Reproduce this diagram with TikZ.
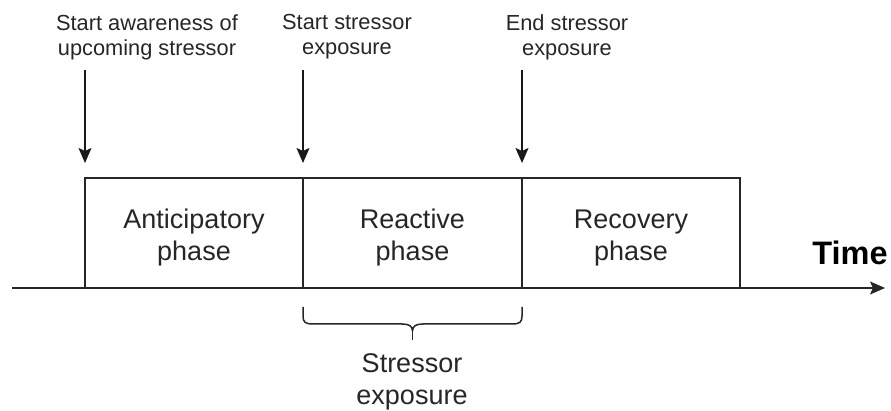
\documentclass[tikz,border=0pt]{standalone}
\usepackage{fontspec}
\setmainfont{Liberation Sans}
\usetikzlibrary{arrows.meta}
\begin{document}
\begin{tikzpicture}[x=1pt,y=-1pt,
  phasebox/.style={draw=black!85, line width=1.6pt, minimum width=218pt, minimum height=110pt, inner sep=0pt, outer sep=0pt},
  phasetext/.style={align=center, font=\fontsize{27}{32}\selectfont, text=black!85},
  toplabel/.style={align=center, font=\fontsize{21.8}{25}\selectfont, text=black!85},
  evarrow/.style={line width=1.6pt, black!90, -{Stealth[length=15pt,width=13pt,inset=3pt]}},
  axisline/.style={line width=1.6pt, black!85, -{Stealth[length=15pt,width=13pt,inset=3pt]}}
]
\useasboundingbox (0,0) rectangle (891,411);

% axis
\coordinate (ax0) at (12,288);
\coordinate (ax1) at (885,288);
\draw[axisline] (ax0) -- (ax1);

% phase boxes
\node[phasebox] (b1) at (194,233) {};
\node[phasebox, minimum width=219pt] (b2) at (412.5,233) {};
\node[phasebox] (b3) at (631,233) {};
\node[phasetext] (t1) at (194,238) {Anticipatory\\phase};
\node[phasetext] (t2) at (412.5,238) {Reactive\\phase};
\node[phasetext] (t3) at (631,238) {Recovery\\phase};

% time label
\node[anchor=base, font=\fontsize{32.5}{36}\selectfont\bfseries, inner sep=0pt] (time) at (850,265) {Time};

% event labels
\node[toplabel] (l1) at (147,37) {Start awareness of\\upcoming stressor};
\node[toplabel] (l2) at (347,37) {Start stressor\\exposure};
\node[toplabel] (l3) at (567,37) {End stressor\\exposure};

% event arrows
\coordinate (s1) at (85,70);
\coordinate (s2) at (303,70);
\coordinate (s3) at (522,70);
\draw[evarrow] (s1) -- ([yshift=15pt]b1.north west);
\draw[evarrow] (s2) -- ([yshift=15pt]b2.north west);
\draw[evarrow] (s3) -- ([yshift=15pt]b3.north west);

% brace
\coordinate (br0) at (303,307);
\coordinate (br1) at (522,307);
\coordinate (brtip) at (412.5,340);
\draw[line width=1.5pt, black!85, line join=round]
  (br0) -- (303,316) .. controls (303,322) and (305,324) .. (313,324)
  -- (402,324) .. controls (409,324) and (412.5,326) .. (412.5,331)
  .. controls (412.5,326) and (416,324) .. (423,324)
  -- (512,324) .. controls (520,324) and (522,322) .. (522,316) -- (br1);
\draw[line width=1.5pt, black!85] (412.5,329) -- (brtip);

\node[phasetext] (se) at (412,382) {Stressor\\exposure};
\end{tikzpicture}
\end{document}
